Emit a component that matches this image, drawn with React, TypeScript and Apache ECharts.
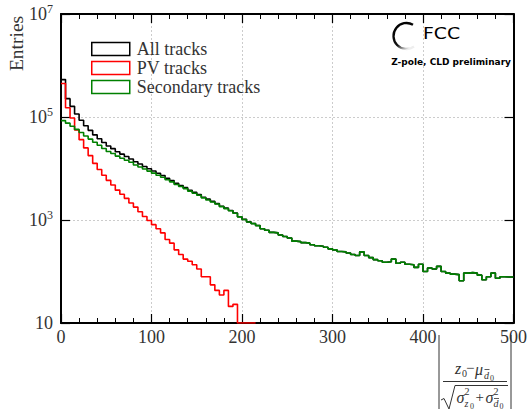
import React, { useEffect, useRef } from "react";
import * as echarts from "echarts";

const BIN_WIDTH = 5;
const X_MIN = 0;
const X_MAX = 500;
const X_INTERVAL = 100;
const Y_MIN = 10;
const Y_MAX = 1e7;
const Y_EXP_INTERVAL = 2;

const seriesNames = ["All tracks", "PV tracks", "Secondary tracks"];
const seriesColors = ["#000000", "#ff0000", "#008000"];

const allTracks = [
  532000, 227000, 161000, 114000, 86500, 67800, 55000, 45000, 37800, 32000,
  27300, 24300, 21200, 19000, 17100, 15300, 13500, 12200, 10900, 9890,
  8930, 8090, 7330, 6440, 5850, 5160, 4680, 4250, 3790, 3440,
  3130, 2770, 2540, 2300, 2080, 1850, 1700, 1530, 1370, 1160,
  1030, 920, 858, 780, 676, 631, 575, 562, 513, 479,
  447, 389, 380, 363, 355, 331, 316, 309, 295, 275,
  263, 245, 240, 229, 214, 204, 240, 204, 186, 170,
  162, 151, 155, 174, 145, 151, 138, 135, 120, 138,
  100, 117, 112, 126, 100, 93, 89, 87, 66, 93,
  95, 93, 85, 69, 79, 93, 74, 79, 78, 78,
];

const pvTracks = [
  447000, 151000, 95500, 56200, 36300, 25100, 17800, 12600, 9550, 7410,
  5890, 4790, 3800, 3160, 2630, 2140, 1780, 1450, 1170, 977,
  813, 676, 562, 417, 355, 263, 214, 174, 158, 135,
  112, 79, 79, 55, 43, 35, 43, 21, 23, 10,
  10, 10, 10,
];

const secondaryTracks = [
  85100, 75900, 66100, 57500, 50100, 42700, 37200, 32400, 28200, 24500,
  21400, 19500, 17400, 15800, 14500, 13200, 11700, 10700, 9770, 8910,
  8130, 7410, 6760, 6030, 5500, 4900, 4470, 4070, 3630, 3310,
  3020, 2690, 2450, 2240, 2040, 1820, 1660, 1510, 1350, 1150,
  1020, 912, 851, 776, 676, 631, 575, 562, 513, 479,
  447, 389, 380, 363, 355, 331, 316, 309, 295, 275,
  263, 245, 240, 229, 214, 204, 240, 204, 186, 170,
  162, 151, 155, 174, 145, 151, 138, 135, 120, 138,
  100, 117, 112, 126, 100, 93, 89, 87, 66, 93,
  95, 93, 85, 69, 79, 93, 74, 79, 78, 78,
];

const SERIF = "'Liberation Serif', 'DejaVu Serif', serif";
const SANS = "'DejaVu Sans', 'Liberation Sans', sans-serif";
const TXT = "#333333";

function toSteps(vals: number[]) {
  const pts: number[][] = vals.map((v, i) => [i * BIN_WIDTH, v]);
  pts.push([vals.length * BIN_WIDTH, vals[vals.length - 1]]);
  return pts;
}

function t(text: string, x: number, y: number, size: number, italic = false, align = "left") {
  return {
    type: "text",
    x,
    y,
    silent: true,
    style: {
      text,
      font: `${italic ? "italic " : ""}${size}px ${SERIF}`,
      fill: TXT,
      textAlign: align,
      textVerticalAlign: "middle",
      align,
      verticalAlign: "middle",
    },
  };
}

function ln(x1: number, y1: number, x2: number, y2: number, w = 1) {
  return {
    type: "line",
    silent: true,
    shape: { x1, y1, x2, y2 },
    style: { stroke: TXT, lineWidth: w },
  };
}

export default function App() {
  const ref = useRef<HTMLDivElement>(null);
  useEffect(() => {
    if (!ref.current) return;
    const chart = echarts.init(ref.current, undefined, { renderer: "svg" });
    const baseX = {
      type: "value",
      min: X_MIN,
      max: X_MAX,
      interval: X_INTERVAL,
      axisLine: { show: true, onZero: false, lineStyle: { color: "#000", width: 2 } },
      axisTick: { show: true, inside: true, length: 9, lineStyle: { color: "#000", width: 1.2 } },
      minorTick: { show: true, splitNumber: 5, length: 5, lineStyle: { color: "#000", width: 1 } },
    };
    const baseY = {
      type: "log",
      logBase: 10,
      min: Y_MIN,
      max: Y_MAX,
      interval: Y_EXP_INTERVAL,
      axisLine: { show: true, onZero: false, lineStyle: { color: "#000", width: 2 } },
      axisTick: { show: true, inside: true, length: 9, lineStyle: { color: "#000", width: 1.2 } },
      minorTick: { show: false },
    };
    const seriesData = [allTracks, pvTracks, secondaryTracks];
    chart.setOption({
      animation: false,
      backgroundColor: "#ffffff",
      grid: { left: 61, right: 15, top: 14, bottom: 86, containLabel: false },
      legend: {
        orient: "vertical",
        left: 86,
        top: 35,
        itemWidth: 38,
        itemHeight: 13,
        itemGap: 1,
        selectedMode: false,
        textStyle: { fontFamily: SERIF, fontSize: 18, color: TXT, lineHeight: 18, padding: [0, 0, 0, 2] },
        data: seriesNames.map((name, i) => ({
          name,
          icon: "rect",
          itemStyle: { color: "rgba(0,0,0,0)", borderColor: seriesColors[i], borderWidth: 1.5 },
        })),
      },
      xAxis: [
        {
          ...baseX,
          position: "bottom",
          axisLabel: { show: true, fontFamily: SERIF, fontSize: 18, color: TXT, margin: 5 },
          splitLine: { show: true, lineStyle: { color: "#cccccc", type: [2, 2], width: 1 } },
        },
        {
          ...baseX,
          position: "top",
          axisLabel: { show: false },
          splitLine: { show: false },
        },
      ],
      yAxis: [
        {
          ...baseY,
          position: "left",
          axisLabel: {
            show: true,
            margin: 8,
            formatter: (v: number) => {
              const e = Math.round(Math.log10(v));
              return e === 1 ? "{b|10}" : `{b|10}{s|${e}}`;
            },
            rich: {
              b: { fontFamily: SERIF, fontSize: 18, color: TXT },
              s: { fontFamily: SERIF, fontSize: 12, color: TXT, padding: [0, 0, 11, 0] },
            },
          },
          splitLine: { show: true, lineStyle: { color: "#cccccc", type: [2, 2], width: 1 } },
        },
        {
          ...baseY,
          position: "right",
          axisLabel: { show: false },
          splitLine: { show: false },
        },
      ],
      series: seriesNames.map((name, i) => ({
        name,
        type: "line",
        step: "end",
        xAxisIndex: 0,
        yAxisIndex: 0,
        symbol: "none",
        showSymbol: false,
        data: toSteps(seriesData[i]),
        color: seriesColors[i],
        lineStyle: { color: seriesColors[i], width: 1.6 },
        z: 2 + i,
      })),
      graphic: [
        // y axis title
        {
          type: "text",
          x: 16.5,
          y: 43.5,
          rotation: Math.PI / 2,
          silent: true,
          style: {
            text: "Entries",
            font: `19.5px ${SERIF}`,
            fill: TXT,
            textAlign: "center",
            textVerticalAlign: "middle",
            align: "center",
            verticalAlign: "middle",
          },
        },
        // FCC logo
        {
          type: "arc",
          silent: true,
          shape: { cx: 406.5, cy: 36, r: 13, startAngle: Math.PI / 3.3, endAngle: (5 * Math.PI) / 3, clockwise: true },
          style: {
            fill: "none",
            lineWidth: 2.3,
            stroke: new echarts.graphic.LinearGradient(0.3, 0, 0.7, 1, [
              { offset: 0, color: "#000000" },
              { offset: 0.7, color: "#111111" },
              { offset: 1, color: "#eeeeee" },
            ]),
          },
        },
        {
          type: "text",
          x: 423,
          y: 33.5,
          scaleX: 1.22,
          silent: true,
          style: {
            text: "FCC",
            font: `15.5px ${SANS}`,
            fill: "#000",
            textAlign: "left",
            textVerticalAlign: "middle",
            align: "left",
            verticalAlign: "middle",
          },
        },
        {
          type: "text",
          x: 511,
          y: 61.5,
          silent: true,
          style: {
            text: "Z-pole, CLD preliminary",
            font: `bold 9px ${SANS}`,
            fill: "#000",
            textAlign: "right",
            textVerticalAlign: "middle",
            align: "right",
            verticalAlign: "middle",
          },
        },
        // x axis title: |(z0 - mu_d0) / sqrt(sigma^2_z0 + sigma^2_d0)|
        ln(439, 335, 439, 412, 1),
        ln(511, 335, 511, 412, 1),
        t("z", 455, 368.5, 16, true),
        t("0", 462, 373.5, 10),
        t("−", 466, 368, 15),
        t("μ", 475, 369.5, 16, true),
        t("d", 484, 375, 10, true),
        ln(484.5, 369.5, 489.5, 369.5, 0.8),
        t("0", 490, 378, 8),
        ln(443, 381.5, 507, 381.5, 1),
        {
          type: "polyline",
          silent: true,
          shape: { points: [[441, 400], [444, 398.5], [449, 409], [455, 385.5], [508, 385.5]] },
          style: { stroke: TXT, lineWidth: 1, fill: "none" },
        },
        t("σ", 456.5, 397, 16, true),
        t("2", 464.5, 391, 10),
        t("z", 464.5, 403, 10, true),
        t("0", 470, 406, 8),
        t("+", 475.5, 397, 15),
        t("σ", 485.5, 397, 16, true),
        t("2", 493.5, 391, 10),
        t("d", 493.5, 403, 10, true),
        ln(494, 398.5, 499, 398.5, 0.8),
        t("0", 499.5, 406, 8),
      ],
    });
    return () => chart.dispose();
  }, []);
  return (
    <div
      ref={ref}
      style={{ position: "fixed", left: 0, top: 0, width: 530, height: 409, background: "#fff" }}
    />
  );
}
